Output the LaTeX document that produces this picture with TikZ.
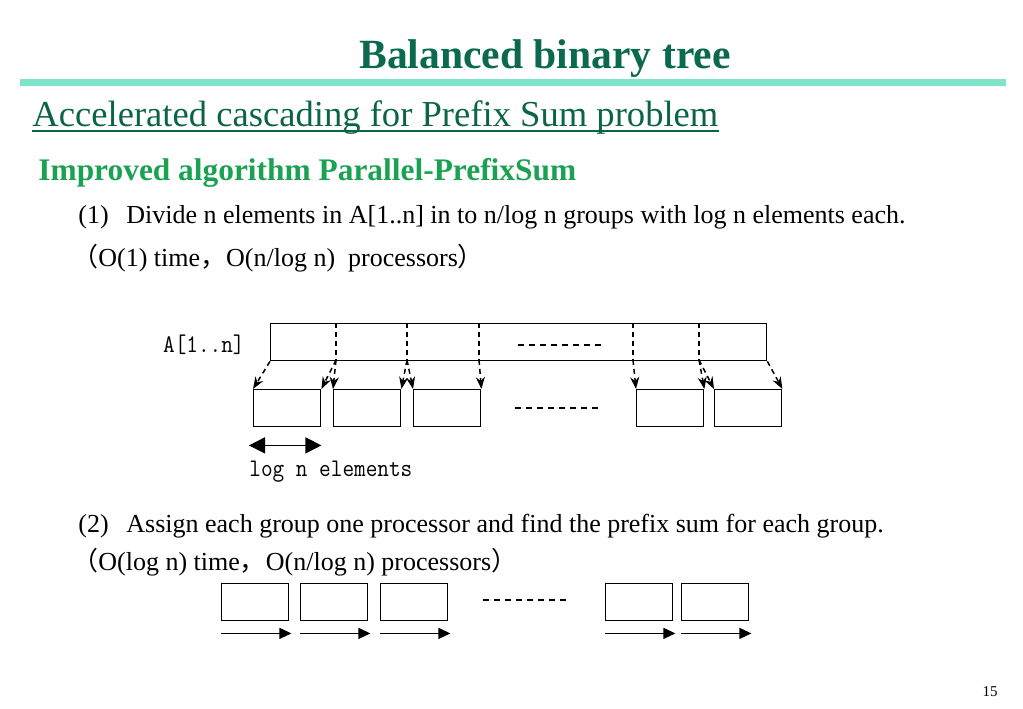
\documentclass[tikz,border=0pt]{standalone}
\usepackage{fontspec}
\setmainfont{Liberation Serif}
\newfontfamily\cjk{Noto Sans CJK SC}
\usepackage{graphicx}
\usetikzlibrary{positioning,arrows.meta}
\definecolor{titlegreen}{RGB}{10,105,78}
\definecolor{bargreen}{RGB}{128,228,204}
\definecolor{subgreen}{RGB}{12,100,72}
\definecolor{headgreen}{RGB}{26,162,82}
\newcommand{\fw}[1]{{\cjk #1}}
\newcommand{\monolabel}[1]{\scalebox{1}[1.12]{\ttfamily #1}}
\tikzset{%
	line-text/.style={
		inner sep=0pt,
		anchor=base west,
		font=\fontsize{13}{15}\selectfont
	},
	cell/.style={
		draw,
		line width=0.7pt,
		inner sep=0pt,
		anchor=north west,
		minimum width=33.5pt,
		minimum height=18.5pt
	},
	array/.style={ cell, minimum width=248pt },
	split/.style={ line width=0.75pt, dash pattern=on 2.5pt off 2pt },
	split-arrow/.style={ split, -{Stealth[length=6pt,width=4.5pt]} },
	dots/.style={ line width=1.4pt, dash pattern=on 3pt off 2.5pt },
}

\begin{document}
\begin{tikzpicture}[x=0.5pt, y=-0.5pt]
\useasboundingbox (0,0) rectangle (1023,708);

% header
\node[inner sep=0pt, anchor=base, text=titlegreen, font=\fontsize{20.8}{25}\selectfont\bfseries] (title) at (545,68) {Balanced binary tree};
\fill[bargreen] (20,79) rectangle (1006,86);
\node[inner sep=0pt, anchor=base west, text=subgreen, font=\fontsize{18.3}{22}\selectfont] (subtitle) at (32,126) {Accelerated cascading for Prefix Sum problem};
\draw[subgreen, line width=0.8pt] ([yshift=-2.5pt]subtitle.base west) -- ([yshift=-2.5pt]subtitle.base east);
\node[inner sep=0pt, anchor=base west, text=headgreen, font=\fontsize{15.7}{19}\selectfont\bfseries] (algo) at (38,180) {Improved algorithm Parallel-PrefixSum};

% step 1
\node[line-text] (step1-no) at (78,223) {(1)};
\node[line-text] (step1) at (126,223) {Divide n elements in A[1..n] in to n/log n groups with log n elements each.};
\node[line-text] (step1-cost) at (72,266) {\fw{（}O(1) time\fw{，}O(n/log n)\ \ processors\fw{）}};

% array and groups
\node[array] (arr) at (270,323) {};
\node[inner sep=0pt, anchor=east, font=\fontsize{11.3}{13}\selectfont] (arr-label) at (245,345) {\monolabel{A[1..n]}};
\foreach \dx [count=\i] in {336,407,479,633,699} {
	\coordinate (cut-\i) at (\dx,360);
	\draw[split] (cut-\i |- arr.north) -- (cut-\i);
}
\draw[dots] (518,345) -- (605,345);
\foreach \gx [count=\i] in {253,333,413,636,714}
	\node[cell] (grp-\i) at (\gx,389) {};
\draw[dots] (515,408) -- (600,408);

% split arrows
\foreach \from/\to in {arr.south west/grp-1.north west, cut-1/grp-1.north east, cut-1/grp-2.north west, cut-2/grp-2.north east, cut-2/grp-3.north west, cut-3/grp-3.north east, cut-4/grp-4.north west, cut-5/grp-4.north east, cut-5/grp-5.north west, arr.south east/grp-5.north east}
	\draw[split-arrow] (\from) -- (\to);

% group size
\draw[{Triangle[length=8pt,width=8pt]}-{Triangle[length=8pt,width=8pt]}, line width=0.8pt] ([xshift=-2pt,yshift=-9pt]grp-1.south west) -- ([yshift=-9pt]grp-1.south east);
\node[inner sep=0pt, anchor=west, font=\fontsize{11.3}{13}\selectfont] (size-label) at (249,472) {\monolabel{log n elements}};

% step 2
\node[line-text] (step2-no) at (78,532) {(2)};
\node[line-text] (step2) at (126,532) {Assign each group one processor and find the prefix sum for each group.};
\node[line-text] (step2-cost) at (72,570) {\fw{（}O(log n) time\fw{，}O(n/log n) processors\fw{）}};

% prefix sums
\foreach \gx [count=\i] in {221,300,380,605,681} {
	\node[cell] (sum-\i) at (\gx,583) {};
	\draw[-{Triangle[length=6pt,width=5.5pt]}, line width=0.6pt] ([yshift=-6pt]sum-\i.south west) -- ([xshift=1pt,yshift=-6pt]sum-\i.south east);
}
\draw[dots] (483,600) -- (568,600);

% page number
\node[inner sep=0pt, font=\fontsize{7.5}{9}\selectfont] (page) at (990,692) {15};

\end{tikzpicture}
\end{document}
